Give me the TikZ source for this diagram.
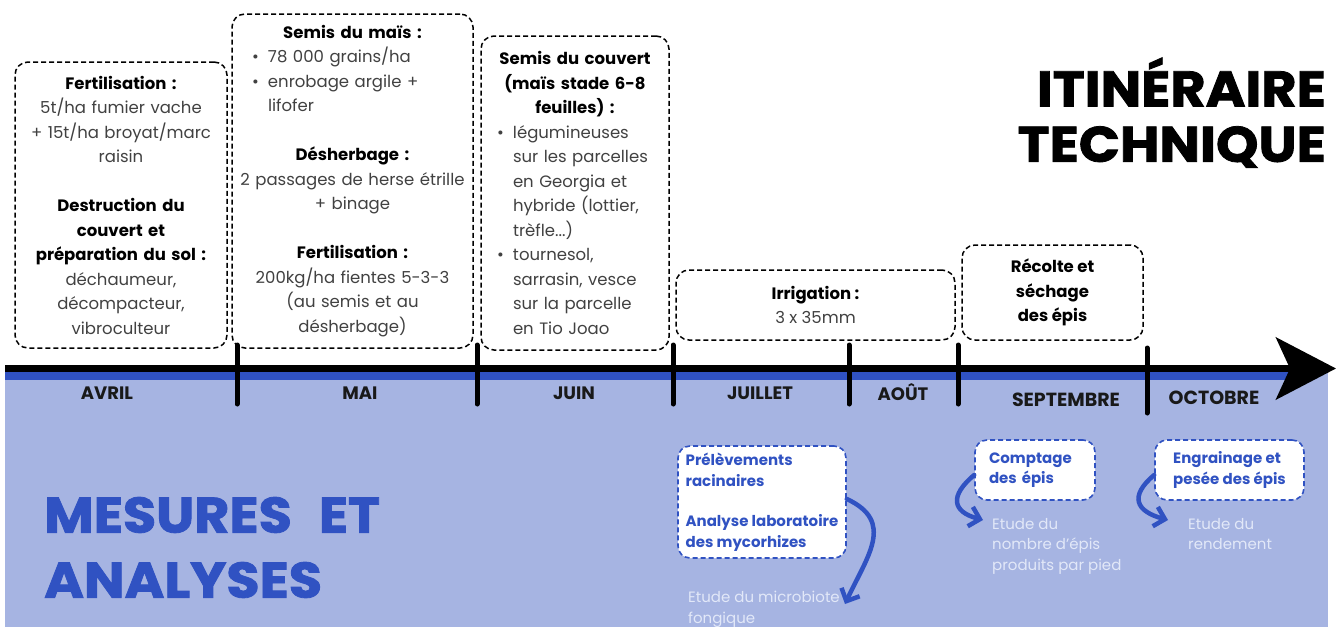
\documentclass[tikz,border=0pt]{standalone}
\usepackage{fontspec}
\setmainfont{Poppins}
\newfontfamily\lourd{Poppins}[BoldFeatures={FakeBold=1.6}]
\usepackage{graphicx}
\usepackage{tikz}
\usetikzlibrary{arrows.meta}

\definecolor{bandblue}{RGB}{166,180,226}
\definecolor{deepblue}{RGB}{48,82,194}
\definecolor{palewhite}{RGB}{226,232,248}
\definecolor{textgray}{RGB}{65,65,65}

\newcommand{\titre}[1]{{\color{black}\bfseries #1}}
\newcommand{\puce}[2]{\makebox[#1][l]{\hspace*{10pt}\makebox[16pt][l]{\textbullet}#2}}
\newcommand{\suite}[2]{\makebox[#1][l]{\hspace*{26pt}#2}}
\newcommand{\elargi}[1]{\scalebox{1.08}[1]{#1}}

\begin{document}
\begin{tikzpicture}[x=1pt, y=-1pt,
	etape/.style={draw=black, line width=1.5pt, dash pattern=on 5pt off 3pt, rounded corners=13pt,
		inner sep=0pt, align=center, text=textgray, font=\fontsize{16.5}{24.5}\selectfont},
	mesure/.style={draw=deepblue, fill=white, line width=1.6pt, dash pattern=on 5pt off 3pt, rounded corners=12pt,
		inner sep=0pt, align=left, text=deepblue, font=\bfseries\fontsize{15}{20.5}\selectfont},
	resultat/.style={text=palewhite, align=left, inner sep=0pt, anchor=north west, font=\fontsize{15}{20.5}\selectfont},
	mois/.style={text=black!90, inner sep=0pt, font=\bfseries\fontsize{18}{20}\selectfont},
	gros/.style={inner sep=0pt, font=\lourd\bfseries\fontsize{50}{60}\selectfont},
	repere/.style={line width=5pt, line cap=round},
	fleche/.style={draw=deepblue, line width=4.5pt, line cap=round, -{Straight Barb[length=10pt,width=20pt]}}]
\useasboundingbox (0,0) rectangle (1338,627);
\fill[white] (0,0) rectangle (1338,627);

% draw blue band
	\fill[bandblue] (5,372) rectangle (1328,627);
	\fill[deepblue] (5,372) rectangle (1290,380);

% draw time axis
	\draw[line width=7pt, -{Stealth[length=60pt, width=62pt, inset=14pt]}] (5,368.5) -- (1336,368.5);
	\foreach \x in {237, 477, 673, 849, 958}
		\draw[repere] (\x,345) -- (\x,404);
	\draw[repere] (1147,348) -- (1147,413);

% months
	\node[mois] (avril) at (107,393) {AVRIL};
	\node[mois] (mai) at (360,393) {MAI};
	\node[mois] (juin) at (574,393) {JUIN};
	\node[mois] (juillet) at (760,393) {JUILLET};
	\node[mois] (aout) at (903,392) {AOÛT};
	\node[mois, font=\bfseries\fontsize{19}{20}\selectfont] (septembre) at (1066,400) {SEPTEMBRE};
	\node[mois, font=\bfseries\fontsize{19}{20}\selectfont] (octobre) at (1214,398) {OCTOBRE};

% itineraire boxes
	\node[etape, minimum width=212pt, minimum height=286pt, text width=210pt] (fertil) at (121,205)
		{\titre{Fertilisation :}\\ 5t/ha fumier vache\\ + 15t/ha broyat/marc\\ raisin\\[24.5pt]
		 \titre{Destruction du}\\ \titre{couvert et}\\ \titre{préparation du sol :}\\ déchaumeur,\\ décompacteur,\\ vibroculteur};
	\node[etape, minimum width=241pt, minimum height=334pt, text width=221pt] (semis) at (352.5,181)
		{\titre{Semis du maïs :}\\ \puce{221pt}{78 000 grains/ha}\\ \puce{221pt}{enrobage argile +}\\ \suite{221pt}{lifofer}\\[24.5pt]
		 \titre{Désherbage :}\\ \makebox[221pt][c]{2 passages de herse étrille}\\ + binage\\[24.5pt]
		 \titre{Fertilisation :}\\ 200kg/ha fientes 5-3-3\\ (au semis et au\\ désherbage)};
	\node[etape, minimum width=188pt, minimum height=314pt, text width=176pt] (couvert) at (575,193)
		{\titre{Semis du couvert}\\ \titre{(maïs stade 6-8}\\ \titre{feuilles) :}\\ \puce{176pt}{légumineuses}\\ \suite{176pt}{sur les parcelles}\\
		 \suite{176pt}{en Georgia et}\\ \suite{176pt}{hybride (lottier,}\\ \suite{176pt}{trèfle...)}\\
		 \puce{176pt}{tournesol,}\\ \suite{176pt}{sarrasin, vesce}\\ \suite{176pt}{sur la parcelle}\\ \suite{176pt}{en Tio Joao}};
	\node[etape, minimum width=279pt, minimum height=70pt] (irrigation) at (815.5,305)
		{\titre{Irrigation :}\\ 3 x 35mm};
	\node[etape, minimum width=181pt, minimum height=95pt] (recolte) at (1052.5,292.5)
		{\titre{Récolte et}\\ \titre{séchage}\\ \titre{des épis}};

% titles
	\node[gros, anchor=east] (itin) at (1326,82) {\elargi{ITINÉRAIRE}};
	\node[gros, anchor=east] (tech) at (1326,147) {\elargi{TECHNIQUE}};
	\node[gros, anchor=west, text=deepblue] (mesures) at (44,515) {\elargi{MESURES\hspace{0.5em}ET}};
	\node[gros, anchor=west, text=deepblue] (analyses) at (44,580) {\elargi{ANALYSES}};

% mesures boxes
	\node[mesure, minimum width=168pt, minimum height=112pt] (racines) at (762,502)
		{Prélèvements\\ racinaires\\[20pt] Analyse laboratoire\\ des mycorhizes};
	\node[mesure, minimum width=120pt, minimum height=60pt, text width=92pt] (comptage) at (1035,470)
		{Comptage\\ des épis};
	\node[mesure, minimum width=149pt, minimum height=60pt] (pesee) at (1229.5,470)
		{Engrainage et\\ pesée des épis};

% results
	\node[resultat] (microbiote) at (688,591) {Etude du microbiote\\ fongique};
	\node[resultat] (nombre) at (992,518) {Etude du\\ nombre d'épis\\ produits par pied};
	\node[resultat] (rendement) at (1188,518) {Etude du\\ rendement};

% arrows
	\coordinate (pointeA) at (845,604);
	\coordinate (pointeB) at (983,520);
	\coordinate (pointeC) at (1168,520);
	\draw[fleche] ([yshift=3pt]racines.east) to[out=-25, in=65, looseness=1.3] (pointeA);
	\draw[fleche] ([yshift=-5pt]comptage.west) to[out=220, in=165, looseness=1.8] (pointeB);
	\draw[fleche] ([yshift=-5pt]pesee.west) to[out=220, in=165, looseness=1.8] (pointeC);
\end{tikzpicture}
\end{document}
